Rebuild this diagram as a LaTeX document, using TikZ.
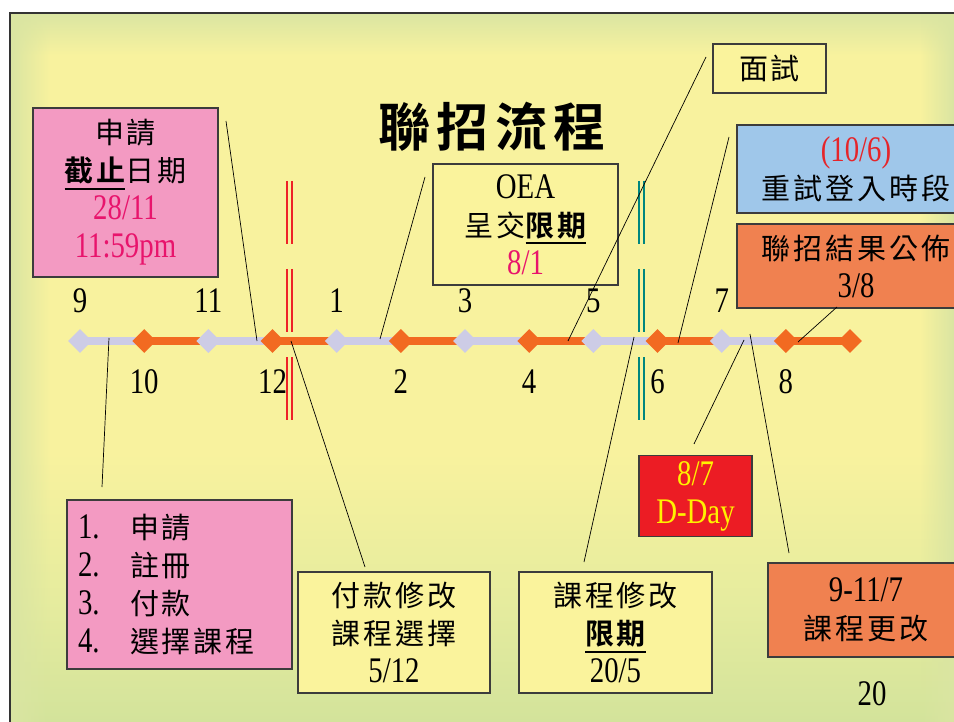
\documentclass[tikz,border=0pt]{standalone}
\usepackage{fontspec}
\setmainfont{Liberation Serif}[FakeStretch=0.8]
\newfontfamily\cjkreg{Noto Sans CJK TC}[LetterSpace=10]
\newfontfamily\cjkbld{Noto Sans CJK TC Bold}[LetterSpace=10]
\newfontfamily\cjkttl{Noto Sans CJK TC Bold}[LetterSpace=12]
\usetikzlibrary{shapes.geometric,fadings}

\newcommand\numf{\fontsize{36}{38}\selectfont\rmfamily}
\newcommand\cjr{\fontsize{29}{38}\selectfont\cjkreg}
\newcommand\cjbold{\fontsize{29}{38}\selectfont\cjkbld}
\newcommand\myul[1]{\setbox0=\hbox{#1}\rlap{\rule[-8pt]{\wd0}{2pt}}\box0}

\definecolor{bgY}{HTML}{F8F29E}
\definecolor{bgM}{HTML}{E6EC9E}
\definecolor{bgG}{HTML}{D3E39B}
\definecolor{bgT}{HTML}{DAE5A2}
\definecolor{pinkc}{HTML}{F39AC2}
\definecolor{magc}{HTML}{E8146C}
\definecolor{yelbox}{HTML}{FAF39C}
\definecolor{bluec}{HTML}{9FC7EA}
\definecolor{orgbox}{HTML}{F08150}
\definecolor{redbox}{HTML}{EC1C24}
\definecolor{yeltxt}{HTML}{FFF200}
\definecolor{tlo}{HTML}{F26A21}
\definecolor{tll}{HTML}{CDCCE6}
\definecolor{redl}{HTML}{EE2227}
\definecolor{tealc}{HTML}{00867F}
\definecolor{parred}{HTML}{E5252A}
\definecolor{boxline}{HTML}{3C3C3C}

\pgfdeclareverticalshading{bgv}{100bp}{color(0bp)=(bgG); color(25bp)=(bgG); color(33.6bp)=(bgM); color(44bp)=(bgY); color(72bp)=(bgY); color(75bp)=(bgT); color(100bp)=(bgT)}
\tikzfading[name=fadeR, left color=transparent!0, right color=transparent!100]
\tikzfading[name=fadeL, left color=transparent!100, right color=transparent!0]

\tikzset{
  box/.style={draw=boxline, line width=1.2pt, inner sep=0pt, align=center, font=\fontsize{29}{38}\selectfont},
  conn/.style={draw=black, line width=0.7pt},
  mon/.style={font=\numf, inner sep=0pt},
  dia/.style={diamond, minimum width=24pt, minimum height=24pt, inner sep=0pt, aspect=1},
  segl/.style={draw=tll, line width=8pt},
  sego/.style={draw=tlo, line width=8pt},
  redpair/.style={draw=redl, line width=2pt, dash pattern=on 63pt off 25pt},
  tealpair/.style={draw=tealc, line width=2pt, dash pattern=on 63pt off 25pt},
}

\begin{document}
\begin{tikzpicture}[x=1pt,y=-1pt]
\useasboundingbox (0,0) rectangle (954,722);
\clip (0,0) rectangle (954,722);
\fill[white] (0,0) rectangle (954,722);
% background
\shade[shading=bgv] (10,13) rectangle (954,722);
\fill[bgT, path fading=fadeR] (11,13) rectangle (50,722);
\fill[bgT, path fading=fadeL] (920,13) rectangle (954,722);
\draw[line width=2pt, black!80] (10,722) -- (10,13) -- (954,13);

% title
\node[font=\fontsize{52}{60}\selectfont\cjkttl, inner sep=0pt] (title) at (492,127) {聯招流程};

% dashed dividers
\draw[redpair] (287,181) -- (287,421);
\draw[redpair] (292,181) -- (292,421);
\draw[tealpair] (639,181) -- (639,421);
\draw[tealpair] (644,181) -- (644,421);

% boxes
\node[box, fill=pinkc, minimum width=185, minimum height=169] (pinkT) at (125.5,192.5)
  {{\cjr 申請}\\{\cjbold\myul{截止}}{\cjr 日期}\\{\numf\color{magc}28/11}\\{\numf\color{magc}11:59pm}};
\node[box, fill=yelbox, minimum width=185, minimum height=121] (oea) at (525.5,224.5)
  {{\numf OEA}\\{\cjr 呈交}{\cjbold\myul{限期}}\\{\numf\color{magc}8/1}};
\node[box, fill=yelbox, minimum width=113, minimum height=49] (mian) at (769.5,68.5)
  {\cjr 面試};
\node[box, fill=bluec, minimum width=238, minimum height=88] (blue) at (856,169)
  {{\numf\color{parred}(10/6)}\\{\cjr 重試登入時段}};
\node[box, fill=orgbox, minimum width=238, minimum height=84] (result) at (856,266)
  {{\cjr 聯招結果公佈}\\{\numf 3/8}};
\node[box, fill=pinkc, minimum width=225, minimum height=169, text width=203, align=left] (steps) at (179.5,584.5)
  {\makebox[52pt][l]{\numf 1.}{\cjr 申請}\\\makebox[52pt][l]{\numf 2.}{\cjr 註冊}\\\makebox[52pt][l]{\numf 3.}{\cjr 付款}\\\makebox[52pt][l]{\numf 4.}{\cjr 選擇課程}};
\node[box, fill=yelbox, minimum width=192, minimum height=121] (pay) at (394,632.5)
  {{\cjr 付款修改}\\{\cjr 課程選擇}\\{\numf 5/12}};
\node[box, fill=yelbox, minimum width=193, minimum height=121] (course) at (615.5,632.5)
  {{\cjr 課程修改}\\{\cjbold\myul{限期}}\\{\numf 20/5}};
\node[box, fill=redbox, minimum width=113, minimum height=81, text=yeltxt] (dday) at (695.5,496)
  {{\numf 8/7}\\{\numf D-Day}};
\node[box, fill=orgbox, minimum width=196, minimum height=94] (change) at (866,610)
  {{\numf 9-11/7}\\{\cjr 課程更改}};

\node[mon] (page) at (872,694) {20};

% timeline
\foreach \i in {0,...,12} {\coordinate (m\i) at ({80+64.17*\i},341);}
\foreach \i [evaluate=\i as \j using int(\i+1)] in {0,2,...,10} {\draw[segl] (m\i) -- (m\j);}
\foreach \i [evaluate=\i as \j using int(\i+1)] in {1,3,...,11} {\draw[sego] (m\i) -- (m\j);}
\foreach \i in {0,2,...,10} {\node[dia, fill=tll] (d\i) at (m\i) {};}
\foreach \i in {1,3,...,11} {\node[dia, fill=tlo] (d\i) at (m\i) {};}
\node[dia, fill=tlo] (d12) at (m12) {};

% month labels
\foreach \i/\t in {0/9,2/11,4/1,6/3,8/5,10/7} {\node[mon] (lab\i) at ([yshift=40pt]m\i) {\t};}
\foreach \i/\t in {1/10,3/12,5/2,7/4,9/6,11/8} {\node[mon] (lab\i) at ([yshift=-40.5pt]m\i) {\t};}

% connectors
\coordinate (c1a) at (226,121); \coordinate (c1b) at (257,341);
\coordinate (c2a) at (109,338); \coordinate (c2b) at (102,487);
\coordinate (c3a) at (425,177); \coordinate (c3b) at (380,339);
\coordinate (c4a) at (706,57);  \coordinate (c4b) at (568,341);
\coordinate (c5a) at (729,137); \coordinate (c5b) at (678,343);
\coordinate (c6a) at (837,307); \coordinate (c6b) at (798,342);
\coordinate (c7a) at (291,341); \coordinate (c7b) at (365,567);
\coordinate (c8a) at (634,337); \coordinate (c8b) at (584,562);
\coordinate (c9a) at (744,340); \coordinate (c9b) at (694,444);
\coordinate (c10a) at (750,334); \coordinate (c10b) at (789,553);
\draw[conn] (c1a) -- (c1b);
\draw[conn] (c2a) -- (c2b);
\draw[conn] (c3a) -- (c3b);
\draw[conn] (c4a) -- (c4b);
\draw[conn] (c5a) -- (c5b);
\draw[conn] (c6a) -- (c6b);
\draw[conn] (c7a) -- (c7b);
\draw[conn] (c8a) -- (c8b);
\draw[conn] (c9a) -- (c9b);
\draw[conn] (c10a) -- (c10b);
\end{tikzpicture}
\end{document}
